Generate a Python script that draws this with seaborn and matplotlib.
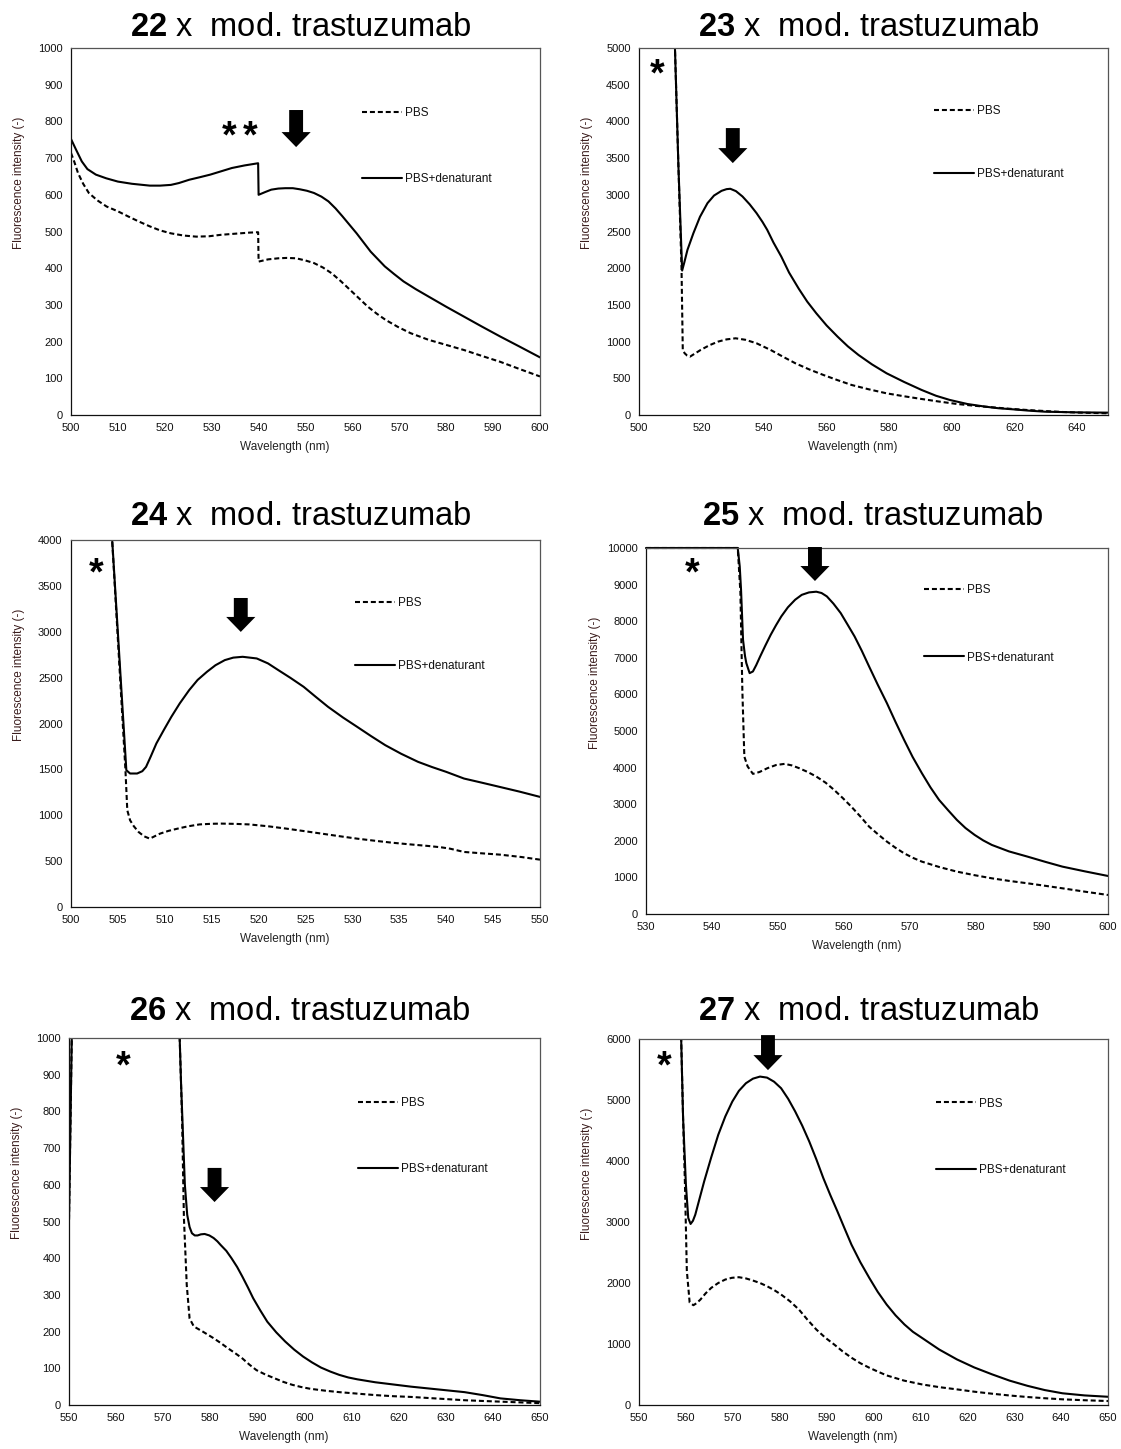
import matplotlib
matplotlib.use("Agg")
import matplotlib.pyplot as plt
import seaborn as sns

sns.set_theme(style="white")
plt.rcParams["font.family"] = ["Liberation Sans", "DejaVu Sans"]
plt.rcParams["mathtext.fontset"] = "custom"
plt.rcParams["mathtext.rm"] = "Liberation Sans"
plt.rcParams["mathtext.bf"] = "Liberation Sans:bold"

# ---- emission spectra (wavelength in nm, intensity in a.u.) ----
# 22 x mod. trastuzumab
wl_22_pbs = [500, 500.7, 501.5, 502.6, 503.8, 505.6, 507.6, 510, 512.2, 514.5, 516.8, 519,
             521.3, 524, 526.7, 529.4, 532, 535, 538.1, 539.9,
             540, 542, 544.2, 546, 548, 550, 551.8, 553.7, 555.6, 557.5, 559.5, 561.4,
             563.3, 565.2, 567.1, 569.7, 572.4, 576.2, 580, 583.8, 587.6, 591.5, 595.7, 600]
int_22_pbs = [714, 690, 659, 630, 605, 585, 568, 555, 541, 527, 514, 503,
              495, 489, 486, 487, 491, 494, 497, 498,
              418, 424, 427, 428, 427, 421, 414, 402, 386, 365, 341, 318,
              295, 276, 259, 240, 223, 205, 191, 177, 161, 145, 125, 105]
wl_22_den = [500, 501, 502.3, 503.5, 505.3, 507.5, 510, 513, 516.8, 519, 521.3, 523, 525.2,
             527.5, 529.7, 532, 534.3, 537, 539.9,
             540, 541.5, 542.7, 544.2, 545.7, 547.3, 548.8, 550.3, 551.8, 553.4, 554.9,
             556.4, 557.9, 559.4, 560.9, 562.4, 563.9, 565.4, 566.9, 568.9, 570.9, 573.5,
             576.2, 580, 583.8, 587.6, 591.5, 595.7, 600]
int_22_den = [752, 725, 691, 670, 655, 645, 636, 630, 625, 625, 627, 632, 641,
              648, 655, 664, 673, 680, 686,
              600, 608, 614, 617, 618, 618, 615, 611, 605, 595, 582,
              563, 541, 518, 495, 470, 445, 425, 405, 384, 364, 343,
              323, 295, 268, 241, 214, 186, 157]

# 23 x mod. trastuzumab
wl_23_pbs = [511.0, 511.5, 512.6, 513.6, 514.0, 514.6, 515.4, 516.3, 518, 519.7, 522.5,
             525.3, 528, 530.9, 534, 537.6, 542.1, 546, 550, 554.5, 559, 563.5, 568,
             573.5, 579.2, 584.8, 590.4, 596, 601.7, 607.3, 612.9, 618.5, 624.2, 629.8,
             635.4, 642, 650]
int_23_pbs = [5600, 5000, 3400, 2000, 890, 841, 810, 795, 840, 886, 950,
              1000, 1030, 1045, 1025, 977, 886, 795, 705, 620, 545, 475, 409,
              350, 295, 255, 218, 183, 150, 126, 105, 85, 68, 54,
              41, 31, 23]
wl_23_den = [511.0, 511.5, 512.6, 513.8, 514.5, 515.5, 517.4, 519.5, 521.9, 524, 526.4,
             528, 529.2, 531, 533.1, 535.4, 537.6, 539.5, 541, 543, 545.5, 548, 551.1,
             553.8, 556.7, 560, 563.5, 566.8, 570.2, 574.5, 579.2, 584.8, 590.4, 595,
             599.4, 605, 610.7, 615, 619.7, 624.5, 629.8, 640, 650]
int_23_den = [5600, 5000, 3400, 1968, 2080, 2250, 2477, 2700, 2886, 2990, 3054,
              3077, 3082, 3050, 2977, 2870, 2750, 2630, 2523, 2350, 2159, 1940, 1720,
              1545, 1386, 1220, 1068, 935, 818, 690, 568, 450, 341, 262,
              205, 150, 114, 92, 77, 60, 45, 36, 32]

# 24 x mod. trastuzumab
wl_24_pbs = [504.3, 505.8, 506.0, 506.3, 506.7, 507.2, 507.8, 508.4, 508.9, 509.5, 510.4,
             511.4, 512.5, 513.7, 515, 516, 517.5, 519, 521, 522.9, 524.8, 526.7, 528.6,
             530.5, 532.4, 534.3, 536.2, 538.1, 539.5, 540.4, 541.9, 543.8, 545.7, 548, 550]
int_24_pbs = [4150, 1500, 1055, 945, 880, 818, 770, 745, 770, 800, 830,
              855, 880, 900, 907, 909, 906, 900, 880, 855, 828, 800, 772,
              745, 722, 700, 682, 665, 650, 636, 600, 585, 571, 545, 516]
wl_24_den = [504.3, 505.9, 506.3, 507.05, 507.6, 508, 508.5, 509.1, 509.9, 510.7, 511.6,
             512.6, 513.5, 514.5, 515.4, 516.4, 517.3, 518.3, 519.8, 521, 522.1, 523.4,
             524.8, 526.1, 527.4, 529, 530.5, 532, 533.5, 535.2, 537, 538.5, 540, 541.9,
             543.8, 545.7, 547.8, 550]
int_24_den = [4150, 1491, 1455, 1455, 1480, 1527, 1640, 1782, 1930, 2073, 2220,
              2364, 2475, 2564, 2635, 2691, 2718, 2727, 2709, 2655, 2582, 2497,
              2400, 2290, 2182, 2065, 1964, 1862, 1764, 1670, 1582, 1525, 1473, 1400,
              1355, 1309, 1258, 1200]

# 25 x mod. trastuzumab
wl_25_pbs = [530, 543.9, 544.3, 544.6, 544.9, 545.4, 546.2, 547.2, 548.4, 549.7, 551,
             552.1, 553.2, 554.5, 555.8, 557.2, 558.5, 559.8, 561.1, 562.5, 563.8, 565.2,
             566.5, 567.8, 569.1, 570.5, 571.8, 574.5, 577.1, 579.8, 582.4, 585, 587.8,
             590.5, 593.1, 596.5, 600]
int_25_pbs = [10000, 10000, 8800, 6100, 4300, 4030, 3829, 3880, 3984, 4070, 4102,
              4060, 3984, 3880, 3756, 3590, 3391, 3170, 2935, 2660, 2388, 2170,
              1978, 1810, 1659, 1530, 1431, 1280, 1158, 1060, 975, 905, 839,
              770, 702, 610, 520]
wl_25_den = [530, 543.9, 544.2, 544.4, 544.7, 545.0, 545.2, 545.7, 546.2, 546.7, 547.3,
             548.1, 548.9, 549.7, 550.5, 551.5, 552.6, 553.6, 554.7, 555.8, 556.6, 557.4,
             558.4, 559.5, 560.5, 561.6, 562.7, 563.8, 565.1, 566.5, 567.8, 569.1, 570.4,
             571.8, 573.1, 574.4, 575.8, 577.1, 578.4, 579.8, 581.1, 582.4, 585, 587.8,
             590.5, 593.1, 596.5, 600]
int_25_den = [10000, 10000, 9500, 8860, 7493, 7050, 6855, 6581, 6627, 6800, 7038,
              7340, 7630, 7890, 8131, 8380, 8587, 8720, 8787, 8806, 8770, 8678,
              8480, 8222, 7920, 7584, 7190, 6764, 6270, 5761, 5250, 4759, 4290,
              3847, 3460, 3118, 2830, 2571, 2350, 2160, 2010, 1887, 1710, 1568,
              1425, 1294, 1165, 1039]

# 26 x mod. trastuzumab
wl_26_pbs = [550, 550.35, 550.7, 550.8, 573.3, 573.5, 574, 574.4, 575, 575.6, 576.5, 578.4,
             580.7, 582.2, 583.7, 585.3, 586.8, 588.3, 589.8, 591.7, 593.6, 595.5, 597.4,
             599.3, 601.3, 604.4, 607.4, 611.2, 615, 618.8, 622.6, 626.4, 630.2, 634,
             637.8, 644, 650]
int_26_pbs = [505, 800, 1100, 1300, 1300, 1000, 782, 509, 327, 236, 214, 200,
              182, 169, 155, 141, 127, 110, 95, 83, 73, 63, 55,
              49, 44, 39, 35, 31, 27, 24, 22, 19, 16, 13,
              11, 8, 5]
wl_26_den = [550, 550.35, 550.7, 550.8, 573.3, 573.5, 573.8, 574.2, 574.6, 575.1, 575.6,
             576.1, 576.7, 577.3, 578.0, 578.8, 579.8, 580.7, 581.5, 582.2, 583.4, 584.5,
             585.7, 586.8, 588, 589.1, 590.6, 592.1, 594, 595.9, 597.8, 599.7, 601.6,
             603.5, 605.5, 607.4, 609.3, 611.2, 615, 618.8, 622.6, 626.4, 630.2, 634,
             637.8, 641.6, 645.8, 650]
int_26_den = [505, 800, 1100, 1300, 1300, 1000, 873, 736, 600, 518, 485,
              468, 462, 462, 465, 466, 462, 455, 446, 436, 420, 400,
              376, 350, 320, 291, 258, 227, 198, 173, 151, 132, 116,
              102, 91, 82, 75, 70, 62, 56, 50, 45, 40, 35,
              27, 18, 13, 9]

# 27 x mod. trastuzumab
wl_27_pbs = [558.9, 559.4, 559.8, 560.2, 560.8, 561.6, 562.3, 563.1, 564.2, 565.4, 566.9,
             568.4, 569.8, 571.3, 572.8, 574.3, 575.8, 577.3, 578.8, 580.3, 582.2, 584.1,
             585.9, 587.8, 589.7, 591.6, 593.4, 595.3, 597.2, 599.1, 601, 602.8, 606.5,
             610.3, 614, 617.8, 621.5, 625.3, 629, 632.8, 636.5, 640.3, 645, 650]
int_27_pbs = [6300, 4702, 3613, 2200, 1680, 1636, 1670, 1729, 1830, 1920, 2000,
              2057, 2085, 2095, 2075, 2040, 2000, 1947, 1885, 1811, 1700, 1565,
              1400, 1238, 1105, 993, 880, 775, 685, 611, 545, 485, 400,
              338, 293, 256, 218, 185, 156, 131, 111, 93, 78, 65]
wl_27_den = [558.9, 559.4, 560.0, 560.5, 561.0, 561.5, 562.0, 562.9, 563.9, 565.4, 566.9,
             568.4, 569.9, 571.3, 572.8, 574.3, 575.8, 577.3, 578.8, 580.3, 581.8, 583.3,
             584.8, 586.3, 587.8, 589.3, 590.8, 592.3, 593.8, 595.3, 597.2, 599.1, 600.9,
             602.8, 604.7, 606.6, 608.4, 610.3, 614, 617.8, 621.5, 625.3, 629, 632.8,
             636.5, 640.3, 645, 650]
int_27_den = [6300, 4702, 3613, 3067, 2968, 3020, 3120, 3380, 3667, 4060, 4430,
              4730, 4975, 5150, 5275, 5350, 5384, 5367, 5300, 5193, 5020, 4812,
              4580, 4320, 4030, 3720, 3440, 3175, 2900, 2629, 2340, 2084, 1855,
              1647, 1470, 1320, 1200, 1102, 910, 747, 615, 502, 400, 315,
              245, 192, 157, 135]

# ---- per-panel settings ----
labels_n = ["22", "23", "24", "25", "26", "27"]
pbs_x = [wl_22_pbs, wl_23_pbs, wl_24_pbs, wl_25_pbs, wl_26_pbs, wl_27_pbs]
pbs_y = [int_22_pbs, int_23_pbs, int_24_pbs, int_25_pbs, int_26_pbs, int_27_pbs]
den_x = [wl_22_den, wl_23_den, wl_24_den, wl_25_den, wl_26_den, wl_27_den]
den_y = [int_22_den, int_23_den, int_24_den, int_25_den, int_26_den, int_27_den]

x_limits = [(500, 600), (500, 650), (500, 550), (530, 600), (550, 650), (550, 650)]
x_steps = [10, 20, 5, 10, 10, 10]
y_limits = [(0, 1000), (0, 5000), (0, 4000), (0, 10000), (0, 1000), (0, 6000)]
y_steps = [100, 500, 500, 1000, 100, 1000]

# peak arrows: (wavelength, tail top, tip)
arrows = [(548, 831, 730), (530, 3909, 3432), (518.1, 3368, 2998),
          (555.6, 10027, 9098), (580.9, 646, 553), (577.5, 6064, 5490)]
# scattering markers: (number of asterisks, wavelength, intensity)
stars = [(2, 536, 777), (1, 505.8, 4726), (1, 502.7, 3706),
         (1, 537, 9480), (1, 561.5, 940), (1, 555.3, 5655)]

W, H = 1121, 1449
# axes boxes in pixels: left, top, right, bottom
boxes = [(71, 48, 540, 415), (639, 48, 1108, 415), (71, 540, 540, 907),
         (646, 548, 1108, 914), (69, 1038, 540, 1405), (639, 1039, 1108, 1405)]
title_pads = [8.6, 8.6, 10.8, 16.6, 13.0, 13.7]
legend_anchor = [(0.620, 0.733), (0.629, 0.742), (0.606, 0.742),
                 (0.602, 0.793), (0.614, 0.733), (0.633, 0.733)]
legend_spacing = [4.6, 4.35, 4.35, 4.7, 4.6, 4.6]

fig = plt.figure(figsize=(W / 100, H / 100), dpi=100)
fig.patch.set_facecolor("white")

for i in range(6):
    l, t, r, b = boxes[i]
    ax = fig.add_axes([l / W, 1 - b / H, (r - l) / W, (b - t) / H])
    ax.set_facecolor("white")
    clip = i != 3

    sns.lineplot(x=pbs_x[i], y=pbs_y[i], ax=ax, color="black", lw=1.5,
                 estimator=None, sort=False, label="PBS", clip_on=clip)
    ax.lines[-1].set_dashes((2.4, 1.4))
    sns.lineplot(x=den_x[i], y=den_y[i], ax=ax, color="black", lw=1.5,
                 estimator=None, sort=False, label="PBS+denaturant", clip_on=clip)

    x0, x1 = x_limits[i]
    y0, y1 = y_limits[i]
    ax.set_xlim(x0, x1)
    ax.set_ylim(y0, y1)
    ax.set_xticks(list(range(x0, x1 + 1 if (x1 - x0) % x_steps[i] == 0 else x1, x_steps[i])))
    ax.set_yticks(list(range(y0, y1 + 1, y_steps[i])))
    ax.tick_params(axis="both", direction="out", length=3.5, width=0.8,
                   colors="#222222", labelsize=8, pad=2.5)
    ax.tick_params(axis="both", labelcolor="#111111")
    for side in ["left", "bottom"]:
        ax.spines[side].set_color("#111111")
        ax.spines[side].set_linewidth(0.9)
    for side in ["top", "right"]:
        ax.spines[side].set_color("#555555")
        ax.spines[side].set_linewidth(0.9)
    ax.grid(False)

    ax.set_xlabel("Wavelength (nm)", fontsize=8.5, color="#222222")
    ax.set_ylabel("Fluorescence intensity (-)", fontsize=8.5, color="#3a1c1c")
    ax.xaxis.set_label_coords(0.456, -0.072)
    ax.yaxis.set_label_coords(-0.098, 0.633)

    ax.set_title(f"$\\mathbf{{{labels_n[i]}}}$ x  mod. trastuzumab",
                 fontsize=23.5, pad=title_pads[i], color="black", x=0.49)

    leg = ax.legend(loc="center left", bbox_to_anchor=legend_anchor[i],
                    frameon=False, fontsize=8.5, handlelength=3.4,
                    handletextpad=0.25, labelspacing=legend_spacing[i],
                    borderpad=0, borderaxespad=0)
    for txt in leg.get_texts():
        txt.set_color("#111111")

    ax_x, a_top, a_tip = arrows[i]
    ax.annotate("", xy=(ax_x, a_tip), xytext=(ax_x, a_top),
                arrowprops=dict(arrowstyle="simple,head_length=1.08,head_width=2.1,tail_width=1.0",
                                mutation_scale=10, color="black", lw=0,
                                shrinkA=0, shrinkB=0))

    n_star, s_x, s_y = stars[i]
    for k in range(n_star):
        dx = (k - (n_star - 1) / 2) * 15
        ax.annotate("*", xy=(s_x, s_y), xytext=(dx, -0.58 * 27 + 3), textcoords="offset points",
                    ha="center", va="baseline", fontsize=27, fontweight="bold", color="black")

fig.savefig("out.png", dpi=100, facecolor="white")
